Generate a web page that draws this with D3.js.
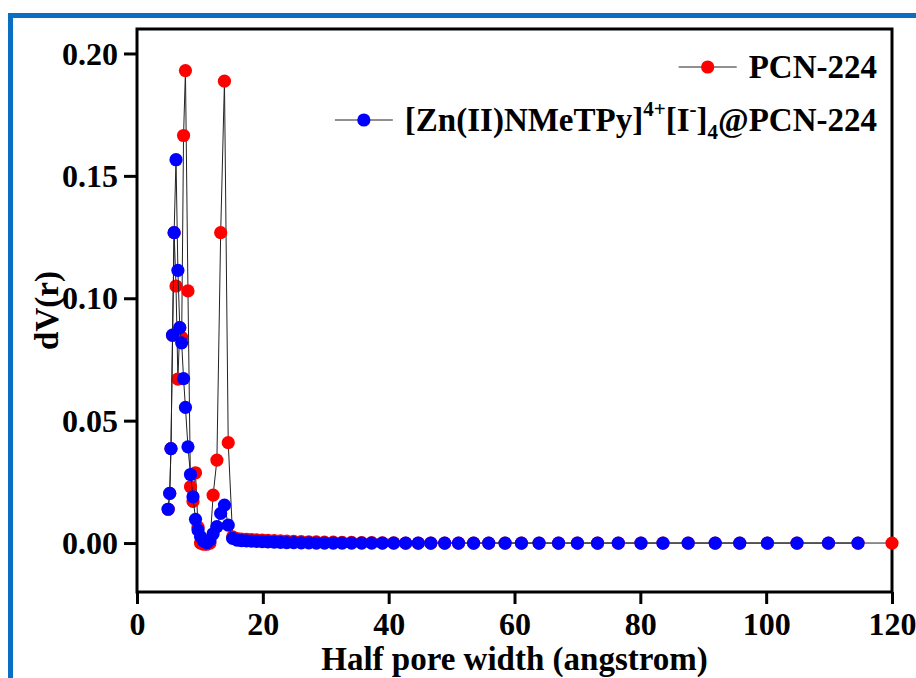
<!DOCTYPE html>
<html>
<head>
<meta charset="utf-8">
<script src="https://cdn.jsdelivr.net/npm/d3@7"></script>
<style>
  html, body { margin: 0; padding: 0; background: #ffffff; }
  svg { display: block; }
  text { font-family: "Liberation Serif", "Times New Roman", serif; font-weight: bold; fill: #000; }
</style>
</head>
<body>
<svg id="chart" width="916" height="678"></svg>
<script>
// ---------------- data ----------------
const poreWidth = [4.95, 5.2, 5.4, 5.65, 5.9, 6.2, 6.5, 6.8, 7.1, 7.4, 7.7, 8.1, 8.5, 8.9, 9.3,
  9.7, 10.1, 10.6, 11.1, 11.6, 12.1, 12.7, 13.3, 13.9, 14.5, 15.2, 15.9, 16.6, 17.4, 18.2,
  19.0, 19.9, 20.8, 21.8, 22.8, 23.8, 24.9, 26.1, 27.3, 28.5, 29.8, 31.2, 32.6, 34.1, 35.7,
  37.3, 39.0, 40.8, 42.7, 44.7, 46.7, 48.9, 51.1, 53.5, 55.9, 58.5, 61.1, 63.9, 67.0, 70.0,
  73.2, 76.5, 80.1, 83.6, 87.6, 91.9, 95.8, 100.2, 104.9, 109.9, 114.6];

const pcnWidth = poreWidth.concat([120]);
const pcnValues = [0.0138, 0.0203, 0.0386, 0.0849, 0.1268, 0.105, 0.067, 0.088, 0.084, 0.1665, 0.193, 0.103, 0.023, 0.017, 0.0287,
  0.0065, 0.0, -0.0005, -0.0005, 0.0, 0.0196, 0.0339, 0.1268, 0.1887, 0.041, 0.0025, 0.0018, 0.0016, 0.0015, 0.0014,
  0.0013, 0.0012, 0.0011, 0.0010, 0.0009, 0.0008, 0.0007, 0.0006, 0.0005, 0.0005, 0.0004, 0.0004, 0.0003, 0.0003, 0.0002,
  0.0002, 0.0001, 0.0001, 0, 0, 0, 0, 0, 0, 0, 0, 0, 0, 0, 0,
  0, 0, 0, 0, 0, 0, 0, 0, 0, 0, 0, 0];

const znWidth = poreWidth;
const znValues = [0.0138, 0.0203, 0.0386, 0.0849, 0.1268, 0.1566, 0.1114, 0.088, 0.0818, 0.0672, 0.0554, 0.0393, 0.028, 0.0189, 0.0097,
  0.0053, 0.0026, 0.0008, 0.0001, 0.0012, 0.0038, 0.0067, 0.0121, 0.0155, 0.0073, 0.0019, 0.0012, 0.0010, 0.0009, 0.0008,
  0.0007, 0.0006, 0.0005, 0.0004, 0.0003, 0.0002, 0.0002, 0.0001, 0.0001, 0, 0, 0, 0, 0, 0,
  0, 0, 0, 0, 0, 0, 0, 0, 0, 0, 0, 0, 0, 0, 0,
  0, 0, 0, 0, 0, 0, 0, 0, 0, 0, 0];

const xTicks = [0, 20, 40, 60, 80, 100, 120];
const yTicks = [0.00, 0.05, 0.10, 0.15, 0.20];
const xTitle = "Half pore width (angstrom)";
const yTitle = "dV(r)";
const seriesNames = ["PCN-224", "[Zn(II)NMeTPy]"];
const seriesColors = ["#ff0000", "#0000ff"];

// ---------------- layout ----------------
const svg = d3.select("#chart");
const L = 137, R = 892, T = 29, B = 592;

// blue outer frame
svg.append("rect").attr("x", 10.5).attr("y", 15.5).attr("width", 960).attr("height", 720)
  .attr("fill", "#ffffff").attr("stroke", "#0a6fc2").attr("stroke-width", 5);

const x = d3.scaleLinear().domain([0, 120]).range([L, R]);
const y = d3.scaleLinear().domain([-0.02, 0.21]).range([B, T]);

// axes
const xAxis = d3.axisBottom(x).tickValues(xTicks).tickFormat(d3.format("d")).tickSize(12).tickPadding(8);
const yAxis = d3.axisLeft(y).tickValues(yTicks).tickFormat(d3.format(".2f")).tickSize(13).tickPadding(6);

const gx = svg.append("g").attr("transform", `translate(0,${B})`).call(xAxis);
const gy = svg.append("g").attr("transform", `translate(${L},0)`).call(yAxis);
[gx, gy].forEach(g => {
  g.select(".domain").remove();
  g.selectAll(".tick line").attr("stroke", "#000").attr("stroke-width", 3);
  g.selectAll(".tick text").attr("font-size", 32).attr("font-family", "Liberation Serif").attr("font-weight", "bold").attr("fill", "#000");
});
gy.selectAll(".tick text").attr("dy", "0.33em");
gx.selectAll(".tick text").attr("dy", "0.71em");

// frame
svg.append("rect").attr("x", L).attr("y", T).attr("width", R - L).attr("height", B - T)
  .attr("fill", "none").attr("stroke", "#000").attr("stroke-width", 3);

// titles
svg.append("text").attr("x", (L + R) / 2).attr("y", 670).attr("text-anchor", "middle")
  .attr("font-size", 33).text(xTitle);
svg.append("text").attr("transform", `translate(58,${(T + B) / 2}) rotate(-90)`).attr("text-anchor", "middle")
  .attr("font-size", 33).text(yTitle);

// series
const plot = svg.append("g");
const lineGen = d3.line().x(d => x(d[0])).y(d => y(d[1]));
function drawSeries(xs, ys, color) {
  const pts = xs.map((v, i) => [v, ys[i]]);
  plot.append("path").datum(pts).attr("d", lineGen).attr("fill", "none")
    .attr("stroke", "#222").attr("stroke-width", 1);
  plot.append("g").selectAll("circle").data(pts).join("circle")
    .attr("cx", d => x(d[0])).attr("cy", d => y(d[1])).attr("r", 6.6).attr("fill", color);
}
drawSeries(pcnWidth, pcnValues, seriesColors[0]);
drawSeries(znWidth, znValues, seriesColors[1]);

// legend
const legendRight = 877;
function legendSymbol(textNode, baseline, color) {
  const w = textNode.node().getComputedTextLength();
  const start = legendRight - w;
  const cy = baseline - 11;
  const x1 = start - 70, x2 = start - 12;
  svg.append("line").attr("x1", x1).attr("x2", x2).attr("y1", cy).attr("y2", cy)
    .attr("stroke", "#222").attr("stroke-width", 1);
  svg.append("circle").attr("cx", (x1 + x2) / 2).attr("cy", cy).attr("r", 6.6).attr("fill", color);
}
const t1 = svg.append("text").attr("x", legendRight).attr("y", 78).attr("text-anchor", "end")
  .attr("font-size", 33).text(seriesNames[0]);
legendSymbol(t1, 78, seriesColors[0]);

const t2 = svg.append("text").attr("x", legendRight).attr("y", 131).attr("text-anchor", "end").attr("font-size", 33);
t2.append("tspan").text(seriesNames[1]);
t2.append("tspan").attr("font-size", 21).attr("dy", -15).text("4+");
t2.append("tspan").attr("font-size", 33).attr("dy", 15).text("[I");
t2.append("tspan").attr("font-size", 21).attr("dy", -15).text("-");
t2.append("tspan").attr("font-size", 33).attr("dy", 15).text("]");
t2.append("tspan").attr("font-size", 21).attr("dy", 8).text("4");
t2.append("tspan").attr("font-size", 33).attr("dy", -8).text("@PCN-224");
legendSymbol(t2, 131, seriesColors[1]);
</script>
</body>
</html>
